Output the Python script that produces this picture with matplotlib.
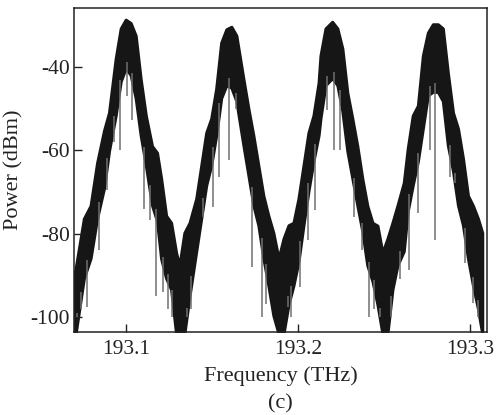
import numpy as np
import matplotlib
matplotlib.use("Agg")
import matplotlib.pyplot as plt

# Frequency samples (THz) of the spectrum band envelopes
freq = [193.0700, 193.0709, 193.0757, 193.0796, 193.0834, 193.0874, 193.0903, 193.0942,
        193.0971, 193.1000, 193.1029, 193.1058, 193.1087, 193.1117, 193.1153, 193.1182,
        193.1206, 193.1235, 193.1264, 193.1293, 193.1312, 193.1341, 193.1371, 193.1410,
        193.1439, 193.1468, 193.1497, 193.1526, 193.1555, 193.1585, 193.1614, 193.1643,
        193.1684, 193.1713, 193.1742, 193.1771, 193.1800, 193.1829, 193.1858, 193.1888,
        193.1917, 193.1946, 193.1975, 193.2004, 193.2033, 193.2062, 193.2091, 193.2121,
        193.2132, 193.2161, 193.2200, 193.2230, 193.2259, 193.2288, 193.2317, 193.2346,
        193.2375, 193.2404, 193.2434, 193.2463, 193.2492, 193.2521, 193.2550, 193.2579,
        193.2616, 193.2639, 193.2668, 193.2698, 193.2727, 193.2756, 193.2785, 193.2814,
        193.2843, 193.2872, 193.2902, 193.2931, 193.2960, 193.2989, 193.3018, 193.3047,
        193.3072]

# Upper envelope of the dense band (dBm)
upper = [-90.0, -88.4, -76.4, -73.3, -63.0, -55.3, -51.0, -38.0,
         -30.8, -28.7, -29.5, -32.5, -42.9, -51.7, -59.0, -60.6,
         -66.8, -75.7, -77.4, -84.6, -87.7, -79.8, -77.4, -71.6,
         -63.7, -55.8, -52.4, -45.2, -34.2, -31.0, -30.4, -32.5,
         -42.9, -50.0, -56.5, -63.7, -70.9, -75.7, -79.8, -86.0,
         -81.2, -78.0, -77.4, -71.6, -63.7, -55.8, -51.7, -43.8,
         -37.3, -30.8, -29.2, -30.8, -35.6, -46.2, -52.4, -59.0,
         -66.8, -73.3, -77.4, -78.1, -84.6, -81.2, -77.4, -73.3,
         -67.8, -59.6, -51.7, -49.3, -37.3, -31.8, -29.8, -29.8,
         -30.8, -41.4, -51.0, -54.8, -62.0, -70.9, -73.3, -76.4,
         -79.8]

# Lower envelope of the dense band (dBm)
lower = [-104.0, -104.0, -90.7, -85.9, -76.3, -69.1, -60.2, -51.6,
         -43.5, -40.3, -42.0, -47.5, -56.4, -63.6, -73.2, -77.0,
         -86.0, -90.7, -93.4, -104.0, -104.0, -104.0, -94.9, -84.2,
         -76.3, -68.4, -63.6, -56.4, -47.5, -44.4, -45.0, -48.2,
         -58.8, -66.0, -73.2, -78.0, -85.9, -92.4, -99.6, -104.0,
         -104.0, -97.0, -92.4, -86.7, -78.0, -69.8, -62.6, -56.4,
         -52.3, -44.4, -42.7, -44.4, -50.6, -60.2, -66.7, -73.2,
         -79.4, -87.6, -91.4, -97.0, -104.0, -104.0, -93.4, -87.6,
         -84.2, -74.6, -68.4, -62.6, -54.7, -46.8, -46.0, -46.0,
         -48.2, -58.8, -65.0, -73.2, -78.0, -86.0, -92.4, -98.0,
         -104.0]

# Downward noise spikes: position (THz) and lowest value (dBm)
spike_freq = [193.0720, 193.0738, 193.0776, 193.0844, 193.0891, 193.0932, 193.0965, 193.1009,
              193.1037, 193.1107, 193.1142, 193.1175, 193.1216, 193.1245, 193.1270, 193.1355,
              193.1381, 193.1449, 193.1507, 193.1545, 193.1600, 193.1643, 193.1732, 193.1790,
              193.1815, 193.1946, 193.1962, 193.2014, 193.2062, 193.2101, 193.2167, 193.2210,
              193.2245, 193.2326, 193.2375, 193.2414, 193.2443, 193.2475, 193.2540, 193.2594,
              193.2649, 193.2698, 193.2766, 193.2795, 193.2882, 193.2911, 193.2970, 193.3018,
              193.3047]
spike_min = [-100.0, -98.0, -97.6, -84.0, -69.5, -58.0, -60.0, -47.0,
             -52.7, -74.0, -76.7, -95.0, -94.0, -98.0, -100.0, -100.0,
             -98.0, -76.0, -73.6, -66.4, -62.3, -50.0, -88.0, -100.0,
             -97.0, -97.6, -100.0, -92.8, -81.5, -74.3, -50.3, -60.0,
             -60.0, -76.0, -84.0, -100.0, -98.0, -100.0, -100.0, -91.0,
             -88.7, -75.0, -60.0, -81.5, -66.4, -67.8, -87.0, -96.6,
             -100.0]

x_ticks = [193.1, 193.2, 193.3]
x_tick_labels = ["193.1", "193.2", "193.3"]
y_ticks = [-100, -80, -60, -40]
y_tick_labels = ["-100", "-80", "-60", "-40"]

plt.rcParams['font.family'] = ['Liberation Serif', 'DejaVu Serif']
text_color = '#222222'

fig = plt.figure(figsize=(4.97, 4.15), dpi=100)
ax = fig.add_axes([0.149, 0.2, 0.831, 0.7807])

spike_top = np.interp(spike_freq, freq, lower)
ax.vlines(spike_freq, spike_min, spike_top + 2, colors='#707070', linewidth=1.1)
ax.fill_between(freq, lower, upper, color='#161616', linewidth=2.2, edgecolor='#161616')

ax.set_xlim(193.07, 193.31)
ax.set_ylim(-103.6, -25.9)
ax.set_xticks(x_ticks)
ax.set_xticklabels(x_tick_labels)
ax.set_yticks(y_ticks)
ax.set_yticklabels(y_tick_labels)
ax.tick_params(direction='in', length=6, width=1.0, labelsize=15.5,
               colors=text_color, top=False, right=False)
ax.tick_params(axis='x', pad=6)
ax.tick_params(axis='y', pad=3)
for sp in ax.spines.values():
    sp.set_linewidth(1.1)
    sp.set_color('#222222')

ax.set_xlabel("Frequency (THz)", fontsize=16, color=text_color, labelpad=5)
ax.set_ylabel("Power (dBm)", fontsize=16, color=text_color, labelpad=5)
fig.text(0.5644, 0.026, "(c)", ha='center', va='center', fontsize=16, color=text_color)

fig.savefig("out.png", dpi=100)
